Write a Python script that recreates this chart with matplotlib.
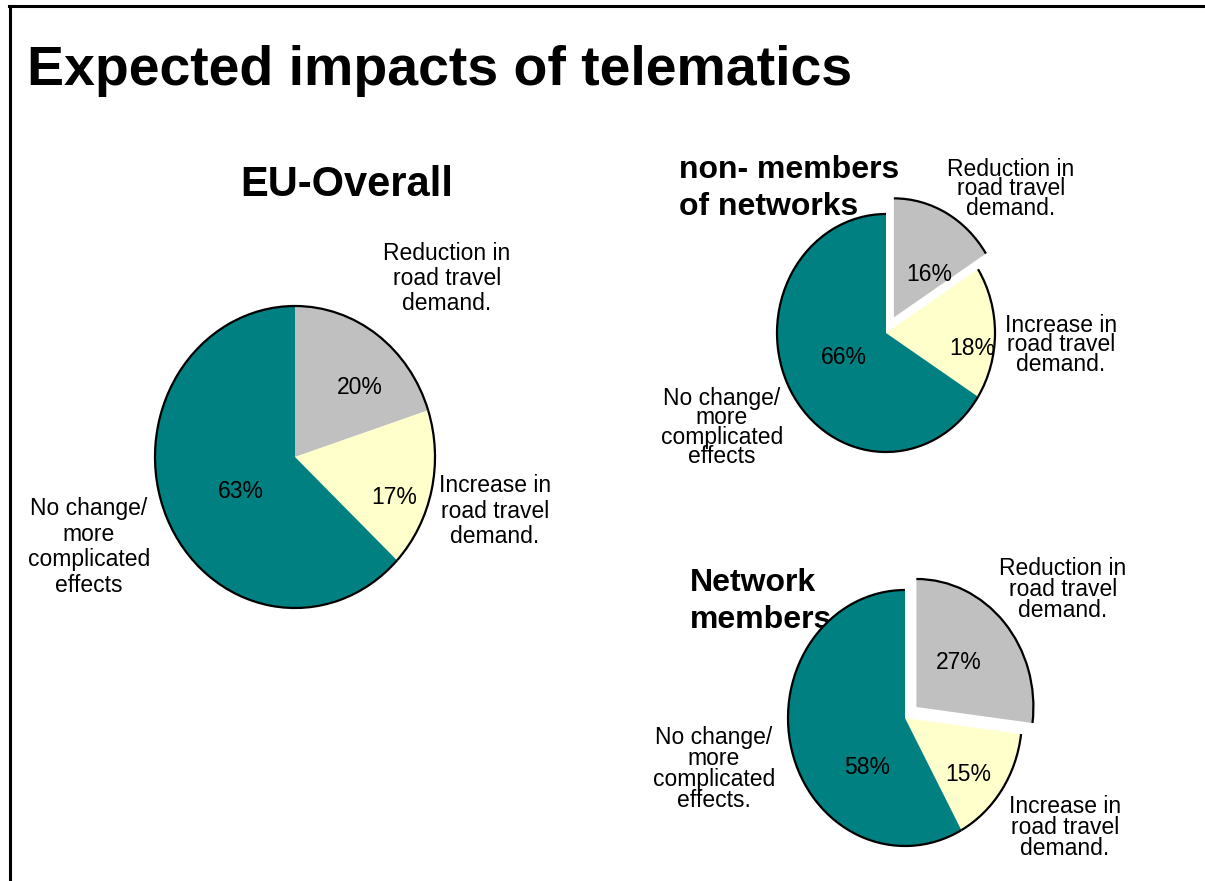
import matplotlib.pyplot as plt
from matplotlib.patches import Arc
from matplotlib.lines import Line2D

plt.rcParams['font.family'] = ['Liberation Sans', 'DejaVu Sans']

W, H = 1205, 881

# slice order: reduction, increase, no change
categories = ['Reduction in\nroad travel\ndemand.',
              'Increase in\nroad travel\ndemand.',
              'No change/\nmore\ncomplicated\neffects']
eu_overall = [20, 17, 63]
non_members = [16, 18, 66]
network_members = [27, 15, 58]
slice_colors = ['#C0C0C0', '#FFFFCC', '#008080']

fig = plt.figure(figsize=(W / 100, H / 100), dpi=100)


def fx(x):
    return x / W


def fy(y):
    return 1 - y / H


def draw_pie(values, cx, cy, rx, ry, explode, pct_pos):
    # axes box sized so that radius 1 spans rx by ry pixels
    pad = 1.4
    ax = fig.add_axes([fx(cx - pad * rx), fy(cy + pad * ry),
                       2 * pad * rx / W, 2 * pad * ry / H])
    wedges, _, pcts = ax.pie(values, colors=slice_colors, startangle=90,
                             counterclock=False, explode=explode,
                             autopct=lambda p: '%.0f%%' % p,
                             wedgeprops=dict(linewidth=0),
                             textprops=dict(fontsize=16.5))
    ax.set_aspect('auto')
    ax.set_xlim(-pad, pad)
    ax.set_ylim(-pad, pad)
    ax.axis('off')
    # black outline only along the rim
    for w in wedges:
        ax.add_patch(Arc(w.center, 2 * w.r, 2 * w.r, theta1=w.theta1,
                         theta2=w.theta2, color='black', lw=1.6))
    for t, pos in zip(pcts, pct_pos):
        t.set_position(pos)
        t.set_ha('center')
        t.set_va('center')
    return ax


draw_pie(eu_overall, 295, 457, 140, 151, [0, 0, 0],
         [(0.46, 0.46), (0.71, -0.27), (-0.39, -0.23)])
draw_pie(non_members, 886, 333, 109, 119, [0.15, 0, 0],
         [(0.40, 0.49), (0.79, -0.13), (-0.39, -0.21)])
draw_pie(network_members, 905, 718, 117, 128, [0.13, 0, 0],
         [(0.46, 0.43), (0.54, -0.44), (-0.32, -0.39)])


def label(x, y, s, size=16.5, ls=1.0, **kw):
    fig.text(fx(x), fy(y), s, fontsize=size, ha='center', va='top',
             linespacing=ls, zorder=-1, **kw)


# headings
fig.text(fx(27), fy(45), 'Expected impacts of telematics', fontsize=40,
         fontweight='bold', va='top')
fig.text(fx(240), fy(165), 'EU-Overall', fontsize=30, fontweight='bold',
         va='top')
fig.text(fx(679), fy(155), 'non- members\nof networks', fontsize=23,
         fontweight='bold', va='top', linespacing=1.3, zorder=-1)
fig.text(fx(690), fy(568), 'Network\nmembers', fontsize=23,
         fontweight='bold', va='top', linespacing=1.3, zorder=-1)

# EU-Overall slice names
label(447, 242, categories[0], ls=1.12)
label(495, 474, categories[1], ls=1.15)
label(89, 497, categories[2], ls=1.15)

# non-members slice names
label(1011, 158, categories[0], ls=0.8)
label(1061, 314, categories[1], ls=0.8)
label(722, 387, categories[2], ls=0.8)

# network members slice names
label(1063, 557, categories[0], ls=0.88)
label(1065, 795, categories[1], ls=0.88)
label(714, 726, categories[2] + '.', ls=0.88)

# page frame, left and top edges
fig.add_artist(Line2D([fx(9.5), fx(9.5)], [fy(881), fy(6)], color='black',
                      lw=2.2))
fig.add_artist(Line2D([fx(8.5), fx(1205)], [fy(6), fy(6)], color='black',
                      lw=2.2))

fig.savefig('out.png', dpi=100, facecolor='white')
